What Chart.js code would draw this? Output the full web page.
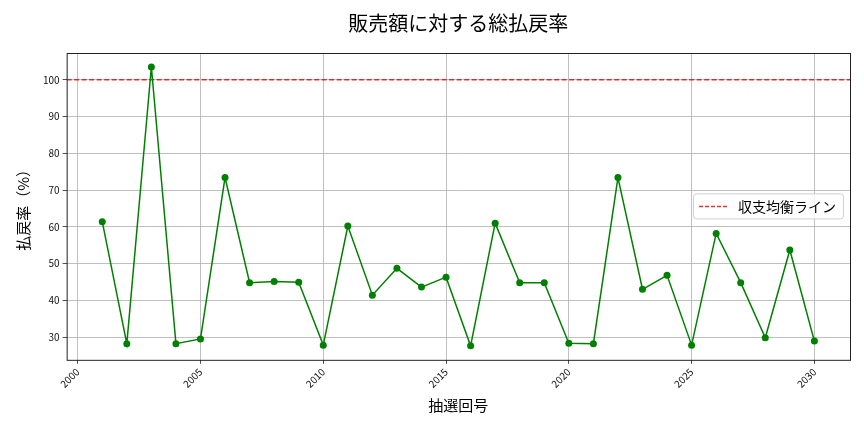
<!DOCTYPE html>
<html>
<head>
<meta charset="utf-8">
<script src="https://cdn.jsdelivr.net/npm/chart.js@4"></script>
<style>
  html, body { margin: 0; padding: 0; background: #fff; }
  #wrap { position: relative; width: 864px; height: 432px; }
</style>
</head>
<body>
<div id="wrap"><canvas id="payoutChart" width="864" height="432"></canvas></div>
<script>
// Data
const drawNumbers = [2001, 2002, 2003, 2004, 2005, 2006, 2007, 2008, 2009, 2010,
  2011, 2012, 2013, 2014, 2015, 2016, 2017, 2018, 2019, 2020,
  2021, 2022, 2023, 2024, 2025, 2026, 2027, 2028, 2029, 2030];
const payoutRates = [61.4, 28.2, 103.5, 28.2, 29.5, 73.4, 44.8, 45.1, 44.9, 27.8,
  60.2, 41.4, 48.7, 43.6, 46.3, 27.6, 61.0, 44.8, 44.8, 28.3,
  28.2, 73.4, 43.0, 46.8, 27.8, 58.2, 44.8, 29.8, 53.7, 28.9];
const breakEven = 100;
const xTickValues = [2000, 2005, 2010, 2015, 2020, 2025, 2030];
const yTickValues = [30, 40, 50, 60, 70, 80, 90, 100];

const FONT = "'Noto Sans CJK JP', 'Noto Sans', sans-serif";

// matplotlib style margins (5% of the data span)
const xSpan = drawNumbers[drawNumbers.length - 1] - drawNumbers[0];
const xMin = drawNumbers[0] - xSpan * 0.05;
const xMax = drawNumbers[drawNumbers.length - 1] + xSpan * 0.05;
const yLo = Math.min(...payoutRates), yHi = Math.max(...payoutRates);
const yMin = yLo - (yHi - yLo) * 0.05;
const yMax = yHi + (yHi - yLo) * 0.05;

// Legend drawn inside the plot, right side, like matplotlib's "best"
const insideLegend = {
  id: 'insideLegend',
  afterDraw(chart) {
    const ds = chart.data.datasets[1];
    const { ctx, chartArea } = chart;
    const w = 150, h = 25;
    const x = chartArea.right - 7 - w;
    const y = (chartArea.top + chartArea.bottom) / 2 - h / 2 - 0.5;
    ctx.save();
    ctx.fillStyle = 'rgba(255,255,255,0.8)';
    ctx.strokeStyle = '#d0d0d0';
    ctx.lineWidth = 1;
    ctx.beginPath();
    ctx.roundRect(x + 0.5, y + 0.5, w, h, 3);
    ctx.fill();
    ctx.stroke();
    ctx.strokeStyle = ds.borderColor;
    ctx.lineWidth = 1.5;
    ctx.setLineDash([4, 2]);
    ctx.beginPath();
    ctx.moveTo(x + 6, y + h / 2 + 0.5);
    ctx.lineTo(x + 34, y + h / 2 + 0.5);
    ctx.stroke();
    ctx.setLineDash([]);
    ctx.fillStyle = '#000';
    ctx.font = `14px ${FONT}`;
    ctx.textBaseline = 'middle';
    ctx.fillText(ds.label, x + 45, y + h / 2 + 1);
    ctx.restore();
  }
};

// Box around the plot area
const frame = {
  id: 'frame',
  afterDraw(chart) {
    const { ctx, chartArea } = chart;
    ctx.save();
    ctx.strokeStyle = '#222';
    ctx.lineWidth = 1;
    ctx.strokeRect(chartArea.left + 0.5, chartArea.top + 0.5,
      chartArea.right - chartArea.left, chartArea.bottom - chartArea.top);
    ctx.restore();
  }
};

const ctx = document.getElementById('payoutChart').getContext('2d');
new Chart(ctx, {
  type: 'line',
  data: {
    datasets: [
      {
        label: '総払戻率',
        data: drawNumbers.map((d, i) => ({ x: d, y: payoutRates[i] })),
        borderColor: '#008000',
        backgroundColor: '#008000',
        borderWidth: 1.5,
        pointRadius: 3.5,
        pointHoverRadius: 3.5,
        pointBorderWidth: 0,
        tension: 0
      },
      {
        label: '収支均衡ライン',
        data: [{ x: xMin, y: breakEven }, { x: xMax, y: breakEven }],
        borderColor: 'rgba(230,0,0,0.8)',
        borderWidth: 1.5,
        borderDash: [5, 2.5],
        pointRadius: 0,
        tension: 0
      }
    ]
  },
  plugins: [frame, insideLegend],
  options: {
    responsive: false,
    animation: false,
    layout: { padding: { left: 14, right: 14, top: 4, bottom: 18 } },
    plugins: {
      legend: { display: false },
      tooltip: { enabled: false },
      title: {
        display: true,
        fullSize: false, // centre over the plot area, as matplotlib does
        text: '販売額に対する総払戻率',
        color: '#000',
        font: { family: FONT, size: 20, weight: 'normal' },
        padding: { top: 7, bottom: 18 }
      }
    },
    scales: {
      x: {
        type: 'linear',
        min: xMin,
        max: xMax,
        afterBuildTicks: axis => { axis.ticks = xTickValues.map(v => ({ value: v })); },
        grid: { color: '#b0b0b0', lineWidth: 0.8, tickLength: 4, tickColor: '#222', drawTicks: true },
        border: { display: false },
        ticks: {
          color: '#111',
          font: { family: FONT, size: 10 },
          maxRotation: 45,
          minRotation: 45,
          padding: 2,
          callback: v => String(v)
        },
        title: {
          display: true,
          text: '抽選回号',
          color: '#000',
          font: { family: FONT, size: 15 },
          padding: { top: 4, bottom: 0 }
        }
      },
      y: {
        min: yMin,
        max: yMax,
        afterBuildTicks: axis => { axis.ticks = yTickValues.map(v => ({ value: v })); },
        grid: { color: '#b0b0b0', lineWidth: 0.8, tickLength: 4, tickColor: '#222', drawTicks: true },
        border: { display: false },
        ticks: {
          color: '#111',
          font: { family: FONT, size: 10 },
          padding: 3,
          callback: v => String(v)
        },
        title: {
          display: true,
          text: '払戻率（%）',
          color: '#000',
          font: { family: FONT, size: 15 },
          padding: { top: 0, bottom: 8 }
        }
      }
    }
  }
});
</script>
</body>
</html>
